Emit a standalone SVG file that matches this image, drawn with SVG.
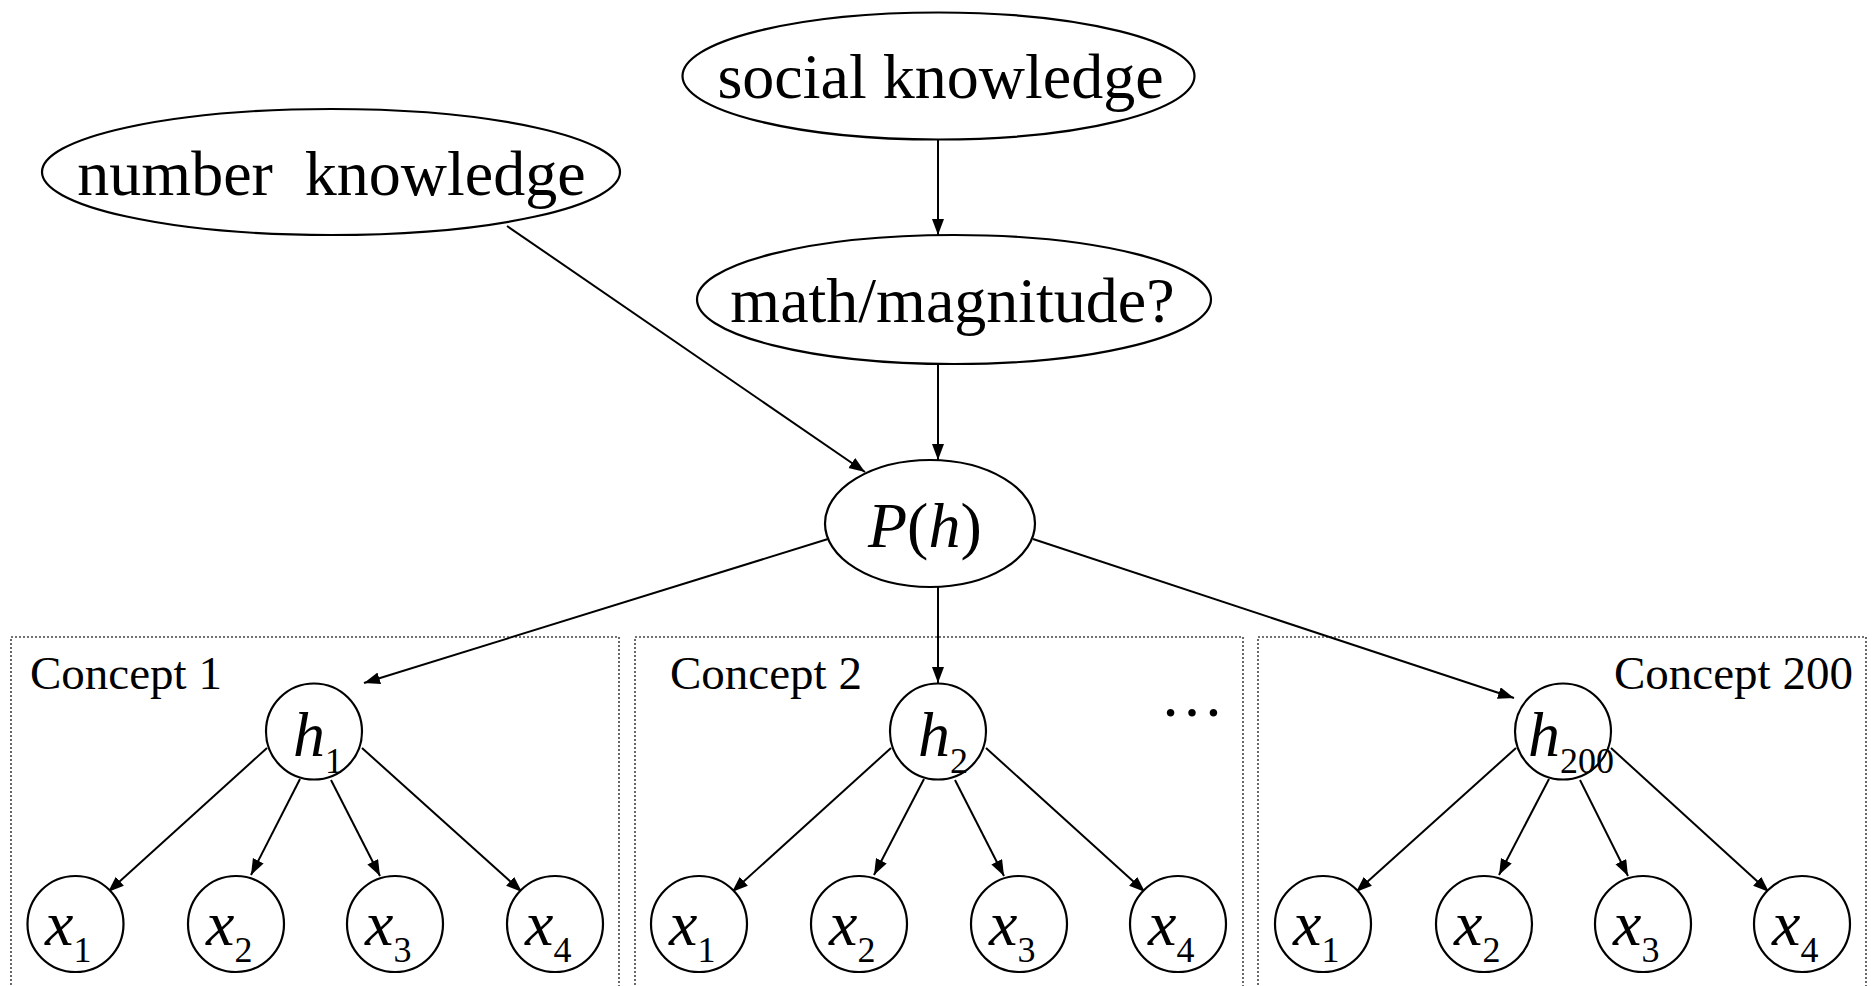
<svg xmlns="http://www.w3.org/2000/svg" width="1873" height="986" viewBox="0 0 1873 986">
  <style>
    text { font-family: "Liberation Serif", "Times New Roman", serif; fill: #000; }
    .big { font-size: 64px; }
    .lab { font-size: 47px; }
    .sub { font-size: 36px; font-style: normal; }
    .it { font-style: italic; }
    .node { fill: #fff; stroke: #000; stroke-width: 2.2; }
    .box { fill: none; stroke: #444; stroke-width: 1.6; stroke-dasharray: 2 2; }
    .edge { fill: none; stroke: #000; stroke-width: 2; marker-end: url(#arrow); }
  </style>
  <defs>
    <marker id="arrow" markerUnits="userSpaceOnUse" markerWidth="17" markerHeight="13" refX="16" refY="6" orient="auto">
      <path d="M0,0 L16,6 L0,12 z" fill="#000"/>
    </marker>
  </defs>
  <rect width="1873" height="986" fill="#fff"/>

  <!-- concept plates -->
  <g id="plates">
    <rect class="box" x="11" y="637" width="608" height="360"/>
    <rect class="box" x="635" y="637" width="608" height="360"/>
    <rect class="box" x="1258" y="637" width="608" height="360"/>
    <text class="lab" x="30" y="689">Concept 1</text>
    <text class="lab" x="670" y="689">Concept 2</text>
    <text class="lab" x="1614" y="689">Concept 200</text>
    <text class="big" x="1192" y="716" text-anchor="middle">…</text>
  </g>

  <!-- connectors -->
  <g id="connectors">
    <line class="edge" x1="938" y1="139" x2="938" y2="235"/>
    <line class="edge" x1="938" y1="364" x2="938" y2="460"/>
    <line class="edge" x1="507" y1="226" x2="865" y2="472"/>
    <line class="edge" x1="828" y1="539" x2="364" y2="683"/>
    <line class="edge" x1="938" y1="587" x2="938" y2="683"/>
    <line class="edge" x1="1033" y1="539" x2="1514" y2="698"/>

    <line class="edge" x1="267" y1="748" x2="108" y2="892"/>
    <line class="edge" x1="300" y1="779" x2="251" y2="875"/>
    <line class="edge" x1="331" y1="780" x2="380" y2="876"/>
    <line class="edge" x1="362" y1="748" x2="522" y2="892"/>

    <line class="edge" x1="891" y1="748" x2="732" y2="892"/>
    <line class="edge" x1="924" y1="779" x2="874" y2="875"/>
    <line class="edge" x1="955" y1="780" x2="1004" y2="876"/>
    <line class="edge" x1="986" y1="748" x2="1145" y2="892"/>

    <line class="edge" x1="1516" y1="748" x2="1356" y2="892"/>
    <line class="edge" x1="1549" y1="779" x2="1499" y2="875"/>
    <line class="edge" x1="1580" y1="780" x2="1628" y2="876"/>
    <line class="edge" x1="1611" y1="748" x2="1769" y2="892"/>
  </g>

  <g id="social">
    <ellipse class="node" cx="938.5" cy="76" rx="256" ry="63.5"/>
    <text class="big" x="940.5" y="98" text-anchor="middle">social knowledge</text>
  </g>
  <g id="number">
    <ellipse class="node" cx="331" cy="172" rx="289" ry="63"/>
    <text class="big" x="331.5" y="195" text-anchor="middle">number&#160; knowledge</text>
  </g>
  <g id="math">
    <ellipse class="node" cx="954" cy="299.5" rx="257" ry="64.5"/>
    <text class="big" x="952.5" y="322" text-anchor="middle">math/magnitude?</text>
  </g>
  <g id="prior">
    <ellipse class="node" cx="930" cy="523.5" rx="105" ry="63.5"/>
    <text class="big" x="868" y="547"><tspan class="it">P</tspan>(<tspan class="it">h</tspan>)</text>
  </g>

  <!-- concept 1 -->
  <g id="h1">
    <circle class="node" cx="314" cy="731.5" r="48"/>
    <text class="big" x="293" y="756"><tspan class="it">h</tspan><tspan class="sub" dy="17">1</tspan></text>
  </g>
  <g id="c1x1"><circle class="node" cx="75.5" cy="924" r="48"/><text class="big" x="45" y="945"><tspan class="it">x</tspan><tspan class="sub" dy="17">1</tspan></text></g>
  <g id="c1x2"><circle class="node" cx="236" cy="924" r="48"/><text class="big" x="206" y="945"><tspan class="it">x</tspan><tspan class="sub" dy="17">2</tspan></text></g>
  <g id="c1x3"><circle class="node" cx="395" cy="924" r="48"/><text class="big" x="365" y="945"><tspan class="it">x</tspan><tspan class="sub" dy="17">3</tspan></text></g>
  <g id="c1x4"><circle class="node" cx="555" cy="924" r="48"/><text class="big" x="525" y="945"><tspan class="it">x</tspan><tspan class="sub" dy="17">4</tspan></text></g>

  <!-- concept 2 -->
  <g id="h2">
    <circle class="node" cx="938" cy="731.5" r="48"/>
    <text class="big" x="918" y="756"><tspan class="it">h</tspan><tspan class="sub" dy="17">2</tspan></text>
  </g>
  <g id="c2x1"><circle class="node" cx="699" cy="924" r="48"/><text class="big" x="669" y="945"><tspan class="it">x</tspan><tspan class="sub" dy="17">1</tspan></text></g>
  <g id="c2x2"><circle class="node" cx="859" cy="924" r="48"/><text class="big" x="829" y="945"><tspan class="it">x</tspan><tspan class="sub" dy="17">2</tspan></text></g>
  <g id="c2x3"><circle class="node" cx="1019" cy="924" r="48"/><text class="big" x="989" y="945"><tspan class="it">x</tspan><tspan class="sub" dy="17">3</tspan></text></g>
  <g id="c2x4"><circle class="node" cx="1178" cy="924" r="48"/><text class="big" x="1148" y="945"><tspan class="it">x</tspan><tspan class="sub" dy="17">4</tspan></text></g>

  <!-- concept 200 -->
  <g id="h200">
    <circle class="node" cx="1563" cy="731.5" r="48"/>
    <text class="big" x="1528" y="756"><tspan class="it">h</tspan><tspan class="sub" dy="17">200</tspan></text>
  </g>
  <g id="c3x1"><circle class="node" cx="1323" cy="924" r="48"/><text class="big" x="1293" y="945"><tspan class="it">x</tspan><tspan class="sub" dy="17">1</tspan></text></g>
  <g id="c3x2"><circle class="node" cx="1484" cy="924" r="48"/><text class="big" x="1454" y="945"><tspan class="it">x</tspan><tspan class="sub" dy="17">2</tspan></text></g>
  <g id="c3x3"><circle class="node" cx="1643" cy="924" r="48"/><text class="big" x="1613" y="945"><tspan class="it">x</tspan><tspan class="sub" dy="17">3</tspan></text></g>
  <g id="c3x4"><circle class="node" cx="1802" cy="924" r="48"/><text class="big" x="1772" y="945"><tspan class="it">x</tspan><tspan class="sub" dy="17">4</tspan></text></g>
</svg>
